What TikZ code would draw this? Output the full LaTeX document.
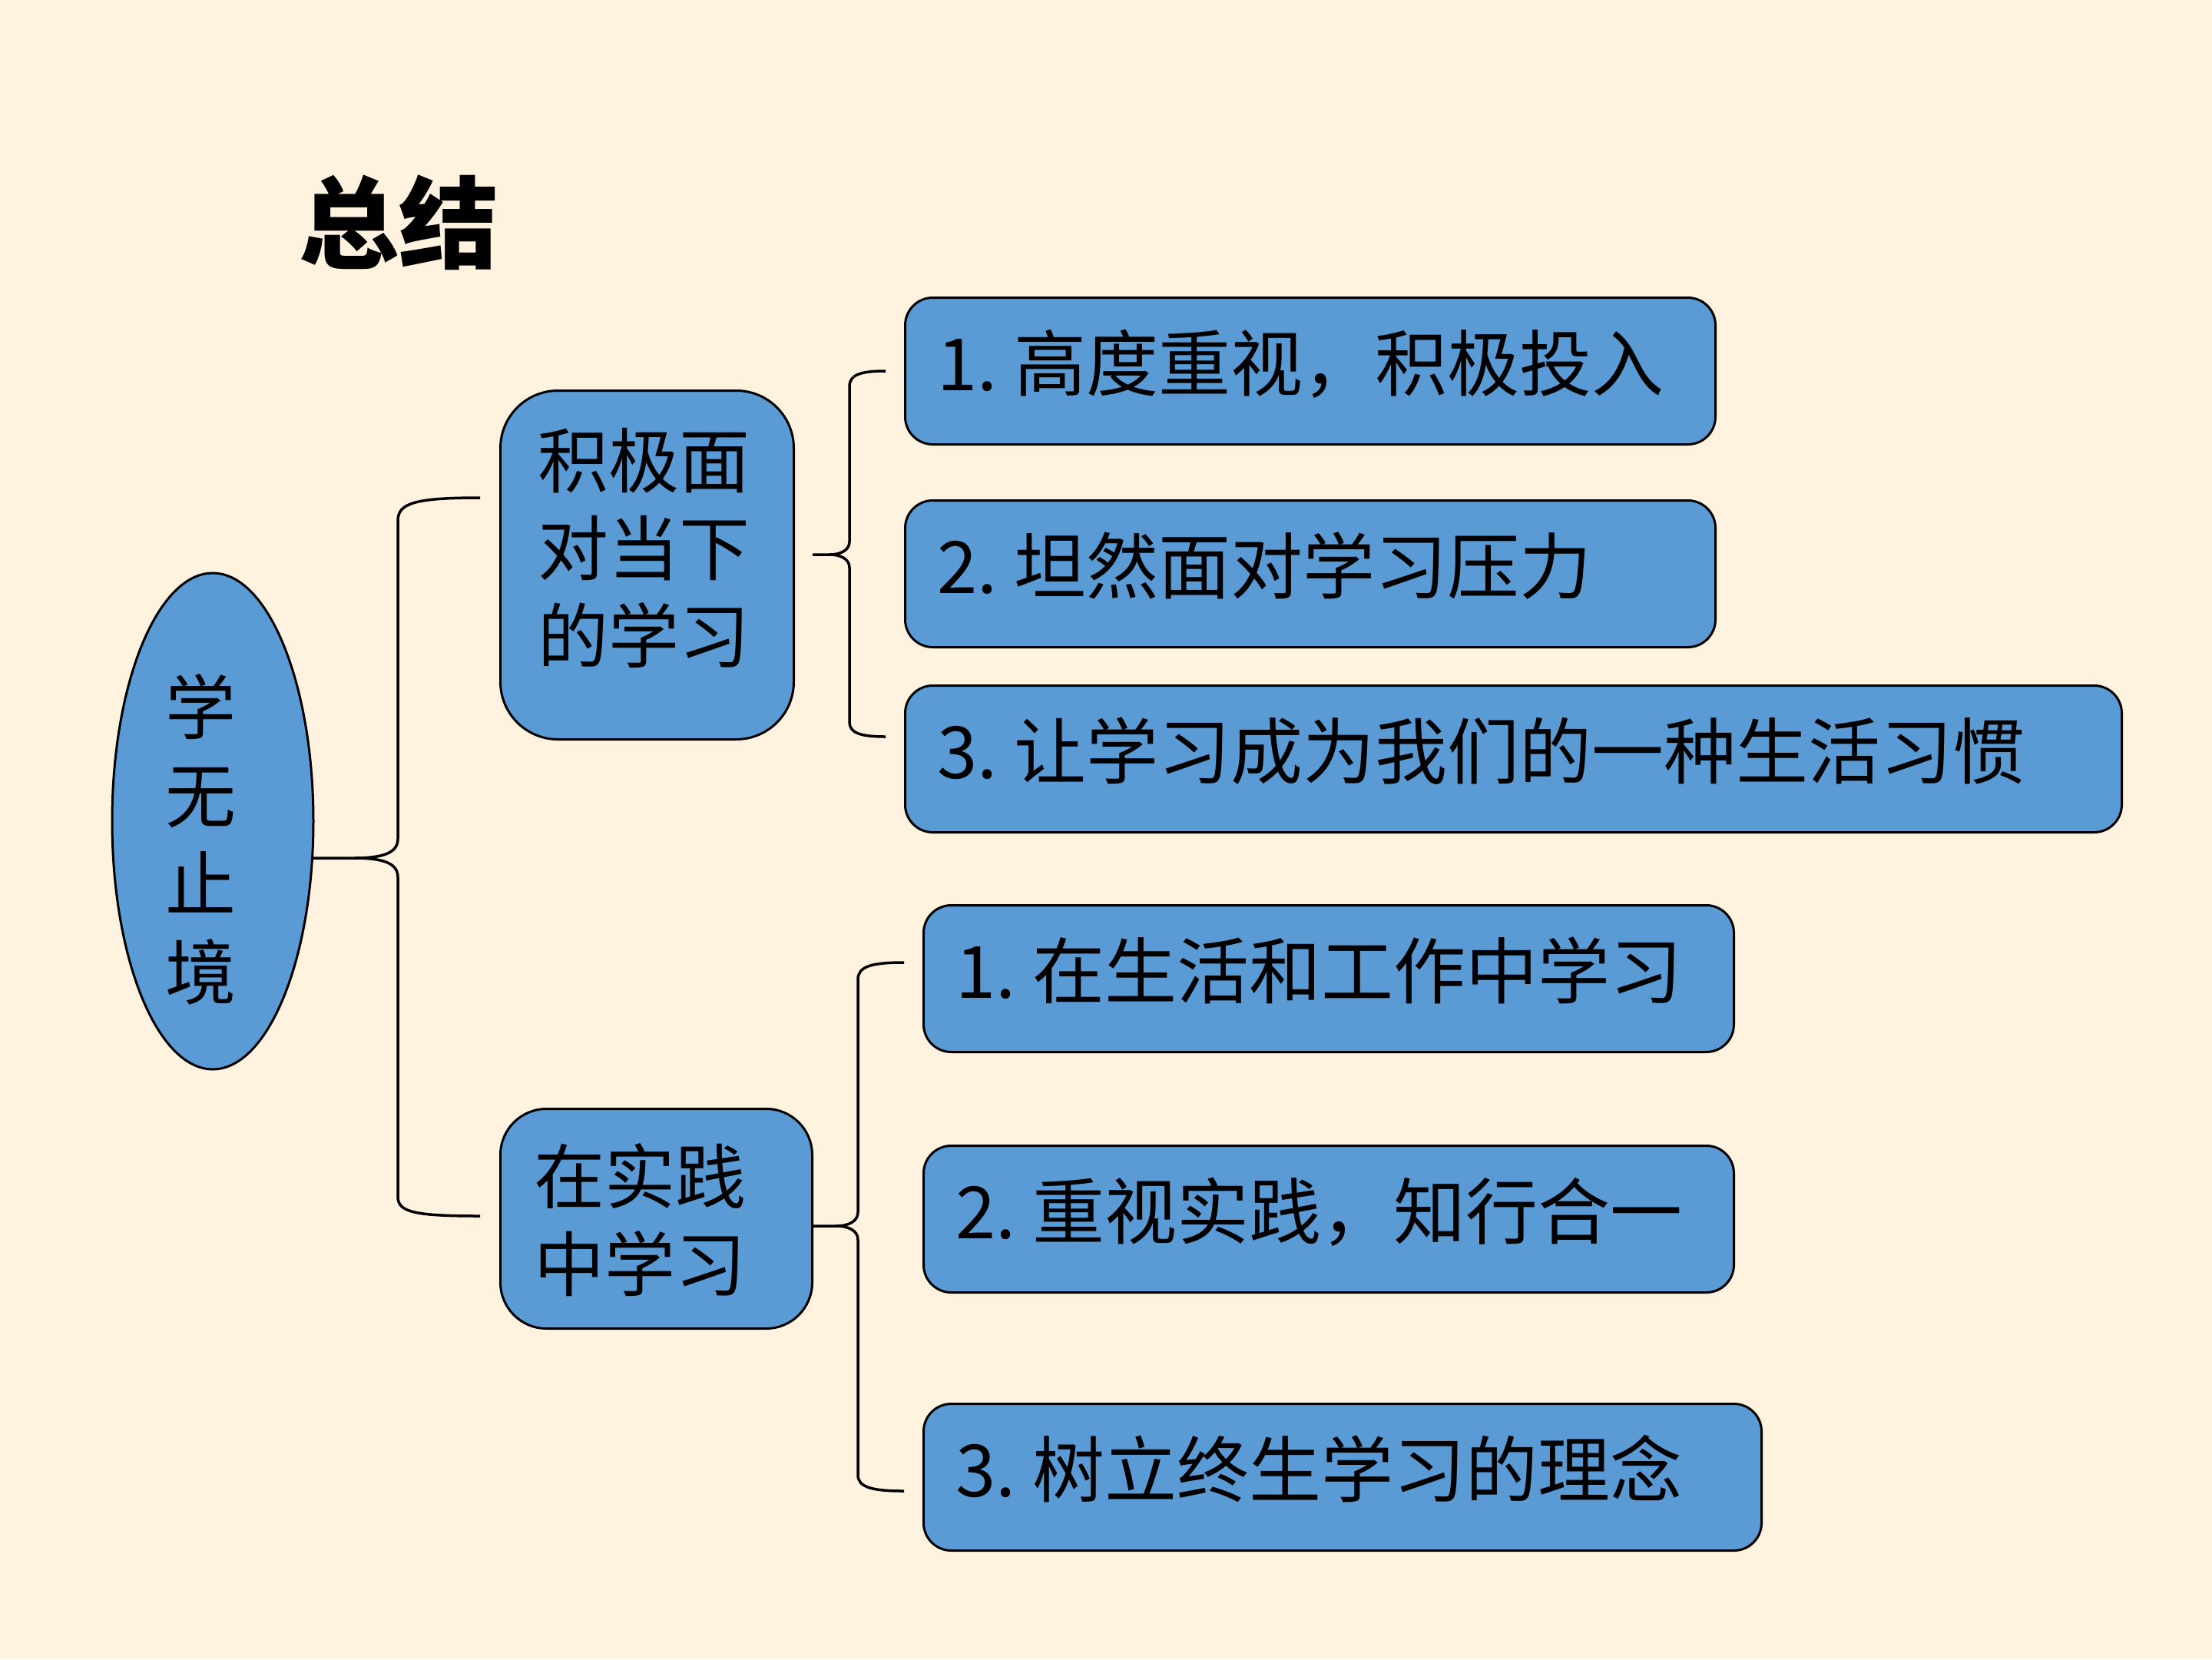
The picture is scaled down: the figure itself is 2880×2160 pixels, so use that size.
\documentclass[tikz,border=0pt]{standalone}
\usepackage{fontspec}
\setmainfont{Noto Sans CJK SC}
\usetikzlibrary{shapes.geometric}
\definecolor{bgc}{RGB}{255,242,222}
\definecolor{boxc}{RGB}{91,155,213}
\tikzset{
  rbox/.style={draw=black, line width=3pt, fill=boxc, anchor=north west, inner sep=0pt},
  midtext/.style={align=center, inner sep=0pt, font=\fontsize{92}{114}\selectfont},
  lbox/.style={rbox, rounded corners=36pt, minimum height=191pt,
    inner xsep=42pt, font=\fontsize{94}{114}\selectfont,
    text height=80pt, text depth=30pt},
  ell/.style={draw=black, line width=3pt, fill=boxc, ellipse, inner sep=0pt,
    minimum width=262pt, minimum height=646pt},
  brace/.style={draw=black, line width=3.5pt}
}
\newcommand{\itm}[3]{\makebox[#1][l]{#2.\kern22pt #3}}
\begin{document}
\begin{tikzpicture}[x=1pt,y=-1pt]
\fill[bgc] (0,0) rectangle (2880,2160);
\useasboundingbox (0,0) rectangle (2880,2160);

\node[font=\fontsize{130}{130}\selectfont\bfseries] (title) at (519,290) {总结};

\node[ell] (root) at (277,1069) {};
\node[midtext, font=\fontsize{92}{115}\selectfont] (roottext) at (261,1093) {学\\无\\止\\境};

\node[rbox, rounded corners=75pt, minimum width=382pt, minimum height=454pt] (A) at (650,507) {};
\node[midtext] (Atext) at (838,713) {积极面\\对当下\\的学习};
\node[rbox, rounded corners=60pt, minimum width=406pt, minimum height=286pt] (B) at (650,1442) {};
\node[midtext] (Btext) at (833,1588) {在实践\\中学习};

\node[lbox] (a1) at (1177,386) {\itm{971pt}{1}{高度重视，积极投入}};
\node[lbox] (a2) at (1177,650) {\itm{971pt}{2}{坦然面对学习压力}};
\node[lbox] (a3) at (1177,891) {\itm{1500pt}{3}{让学习成为我们的一种生活习惯}};

\node[lbox] (b1) at (1201,1177) {\itm{971pt}{1}{在生活和工作中学习}};
\node[lbox] (b2) at (1201,1490) {\itm{971pt}{2}{重视实践，知行合一}};
\node[lbox] (b3) at (1201,1826) {\itm{1007pt}{3}{树立终生学习的理念}};

% left brace: root -> A, B
\coordinate (t0) at (408,1117);
\coordinate (e0a) at (625,648);
\coordinate (e0b) at (625,1583);
\draw[brace] (e0a) .. controls (540,648) and (518,655) .. (518,678)
  -- (518,1092) .. controls (518,1110) and (500,1117) .. (460,1117) -- (t0)
  (t0) -- (460,1117) .. controls (500,1117) and (518,1124) .. (518,1142)
  -- (518,1558) .. controls (518,1578) and (540,1583) .. (e0b);

% brace A -> a1,a2,a3
\coordinate (eAa) at (1153,483);
\coordinate (eAb) at (1153,959);
\draw[brace] (eAa) .. controls (1120,483) and (1106,488) .. (1106,503)
  -- (1106,705) .. controls (1106,716) and (1095,722) .. (1080,722) -- (1058,722)
  (1058,722) -- (1080,722) .. controls (1095,722) and (1106,728) .. (1106,739)
  -- (1106,940) .. controls (1106,954) and (1120,959) .. (eAb);

% brace B -> b1,b2,b3
\coordinate (eBa) at (1177,1253);
\coordinate (eBb) at (1177,1941);
\draw[brace] (eBa) .. controls (1135,1253) and (1117,1258) .. (1117,1275)
  -- (1117,1578) .. controls (1117,1590) and (1105,1596) .. (1088,1596) -- (1058,1596)
  (1058,1596) -- (1088,1596) .. controls (1105,1596) and (1117,1602) .. (1117,1614)
  -- (1117,1920) .. controls (1117,1936) and (1135,1941) .. (eBb);
\end{tikzpicture}
\end{document}
